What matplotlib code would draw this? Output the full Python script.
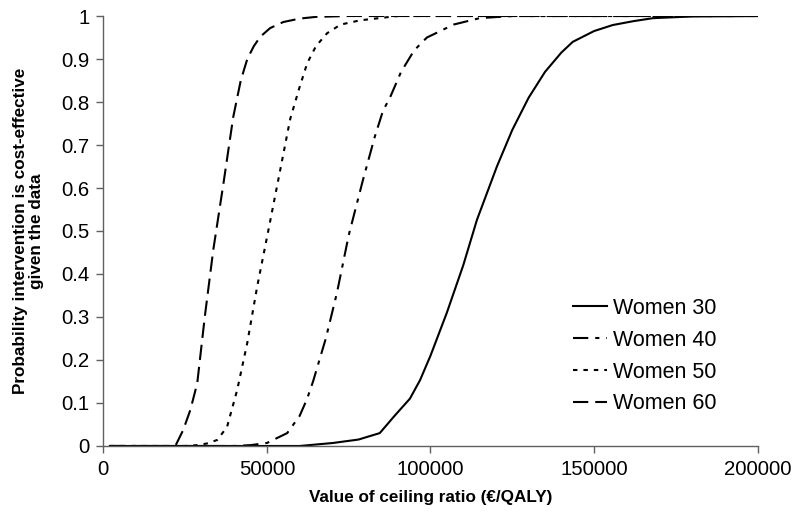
import matplotlib
matplotlib.use("Agg")
import matplotlib.pyplot as plt

plt.rcParams['font.family'] = ['Liberation Sans', 'DejaVu Sans']
plt.rcParams['lines.scale_dashes'] = False

x30 = [2000, 60000, 70200, 78000, 84500, 89000, 93700, 96800, 100000, 105000, 110000,
       114200, 120300, 125000, 130000, 135000, 140000, 143500, 150000, 155700, 162000,
       168000, 180000, 200000]
y30 = [0, 0, 0.007, 0.015, 0.03, 0.07, 0.11, 0.153, 0.21, 0.31, 0.42,
       0.526, 0.65, 0.735, 0.81, 0.87, 0.915, 0.94, 0.965, 0.979, 0.988,
       0.995, 0.999, 1]

x40 = [2000, 40000, 45000, 50000, 56200, 60000, 62300, 64100, 68000, 71400, 75000,
       79400, 83000, 85500, 87600, 91000, 95000, 98900, 103000, 107000, 115000,
       125000, 200000]
y40 = [0, 0, 0.002, 0.007, 0.03, 0.07, 0.11, 0.15, 0.25, 0.356, 0.49,
       0.62, 0.72, 0.78, 0.81, 0.87, 0.92, 0.95, 0.965, 0.98, 0.995,
       1, 1]

x50 = [2000, 25000, 28700, 31800, 34800, 37800, 40900, 44000, 47000, 50400, 53500,
       57100, 59800, 62300, 65000, 68400, 72500, 78500, 90000, 200000]
y50 = [0, 0, 0.002, 0.006, 0.014, 0.044, 0.13, 0.24, 0.37, 0.5, 0.62,
       0.76, 0.83, 0.89, 0.93, 0.96, 0.98, 0.99, 1, 1]

x60 = [2000, 22000, 24400, 26600, 28700, 31000, 33600, 36700, 39700, 42000, 44000,
       46000, 48000, 51000, 55000, 60000, 65000, 75000, 200000]
y60 = [0, 0, 0.037, 0.084, 0.146, 0.30, 0.456, 0.61, 0.765, 0.85, 0.9,
       0.93, 0.952, 0.972, 0.986, 0.994, 0.998, 1, 1]

labels = ['Women 30', 'Women 40', 'Women 50', 'Women 60']

fig = plt.figure(figsize=(7.95, 5.25), dpi=100)
ax = fig.add_axes([0.13, 0.1505, 0.823, 0.819])

lw = 1.5
ax.plot(x30, y30, color='black', lw=lw, label=labels[0])
ax.plot(x40, y40, color='black', lw=lw, dashes=(11, 5, 3, 5), label=labels[1])
ax.plot(x50, y50, color='black', lw=lw, dashes=(3.2, 4.3), label=labels[2])
ax.plot(x60, y60, color='black', lw=lw, dashes=(11, 5), label=labels[3])

ax.set_xlim(0, 200000)
ax.set_ylim(0, 1)
ax.set_xticks([0, 50000, 100000, 150000, 200000])
ax.set_xticklabels(['0', '50000', '100000', '150000', '200000'])
ax.set_yticks([i / 10 for i in range(11)])
ax.set_yticklabels(['0'] + ['%.1f' % (i / 10) for i in range(1, 10)] + ['1'])

for s in ['top', 'right']:
    ax.spines[s].set_visible(False)
for s in ['left', 'bottom']:
    ax.spines[s].set_color('#606060')
    ax.spines[s].set_linewidth(1.0)
ax.tick_params(direction='out', length=5, width=1, color='#606060', labelsize=14.7, pad=5)

ax.set_xlabel('Value of ceiling ratio (€/QALY)', fontsize=12.3, fontweight='bold', labelpad=8)
ax.set_ylabel('Probability intervention is cost-effective\ngiven the data',
              fontsize=12.3, fontweight='bold', linespacing=1.1)
ax.yaxis.set_label_coords(-0.09, 0.5)

ax.legend(loc='upper left', bbox_to_anchor=(573 / 795, 1 - 298 / 525),
          bbox_transform=fig.transFigure, frameon=False, fontsize=15.5,
          borderpad=0, borderaxespad=0, handlelength=1.6, handletextpad=0.25,
          labelspacing=0.5)

fig.savefig('out.png', dpi=100)
